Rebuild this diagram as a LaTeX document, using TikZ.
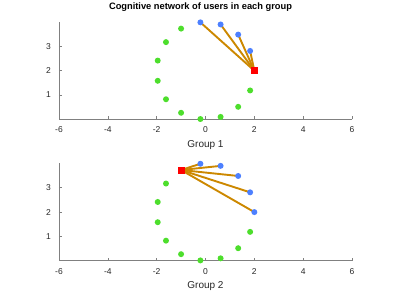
\documentclass[tikz,border=0pt]{standalone}
\usepackage{fontspec}
\setmainfont{Liberation Sans}
\begin{document}
\begin{tikzpicture}[x=1pt,y=1pt,
  axisline/.style={draw=axgray,line width=0.6pt},
  ticklab/.style={font=\fontsize{8.5}{9}\selectfont,text=txtgray,inner sep=0pt},
  greendot/.style={circle,fill=dotgreen,inner sep=0pt,minimum size=6pt},
  bluedot/.style={circle,fill=dotblue,inner sep=0pt,minimum size=6pt},
  redsq/.style={rectangle,fill=red,inner sep=0pt,minimum size=7pt},
  link/.style={draw=linkor,line width=1.9pt}]
\definecolor{axgray}{RGB}{128,128,128}
\definecolor{txtgray}{RGB}{38,38,38}
\definecolor{dotgreen}{RGB}{77,222,44}
\definecolor{dotblue}{RGB}{77,128,255}
\definecolor{linkor}{RGB}{204,136,0}
\useasboundingbox (0,0) rectangle (399,299);
\node[font=\bfseries\fontsize{9.3}{10}\selectfont,text=black] (title) at (200.5,291.7) {Cognitive network of users in each group};
% ---------- Group 1 ----------
\begin{scope}[shift={(205.5,179.7)},x=24.42pt,y=24.3pt]
  \draw[axisline] (-6,4) -- (-6,0) -- (6,0);
  \foreach \t in {-6,-4,-2,0,2,4,6} {
    \draw[axisline] (\t,0) -- ++(0,3pt);
    \node[ticklab,anchor=north] (xa\t) at ([yshift=-7.5pt]\t,0) {\t};
  }
  \foreach \t in {1,2,3} {
    \draw[axisline] (-6,\t) -- ++(3pt,0);
    \node[ticklab,anchor=east] (ya\t) at ([xshift=-8pt]-6,\t) {\t};
  }
  \node[font=\fontsize{10}{11}\selectfont,text=txtgray] (ga) at (0,-1.05) {Group 1};
  \foreach \i in {0,...,14} {
    \coordinate (ca\i) at ({2*cos(24*\i)},{2+2*sin(24*\i)});
  }
  \foreach \j in {1,2,3,4} { \draw[link] (ca0) -- (ca\j); }
  \foreach \i in {5,...,14} { \node[greendot] (a\i) at (ca\i) {}; }
  \foreach \i in {1,2,3,4} { \node[bluedot] (a\i) at (ca\i) {}; }
  \node[redsq] (a0) at (ca0) {};
\end{scope}
% ---------- Group 2 ----------
\begin{scope}[shift={(205.5,38.3)},x=24.42pt,y=24.3pt]
  \draw[axisline] (-6,4) -- (-6,0) -- (6,0);
  \foreach \t in {-6,-4,-2,0,2,4,6} {
    \draw[axisline] (\t,0) -- ++(0,3pt);
    \node[ticklab,anchor=north] (xb\t) at ([yshift=-7.5pt]\t,0) {\t};
  }
  \foreach \t in {1,2,3} {
    \draw[axisline] (-6,\t) -- ++(3pt,0);
    \node[ticklab,anchor=east] (yb\t) at ([xshift=-8pt]-6,\t) {\t};
  }
  \node[font=\fontsize{10}{11}\selectfont,text=txtgray] (gb) at (0,-1.05) {Group 2};
  \foreach \i in {0,...,14} {
    \coordinate (cb\i) at ({2*cos(24*\i)},{2+2*sin(24*\i)});
  }
  \foreach \j in {0,1,2,3,4} { \draw[link] (cb5) -- (cb\j); }
  \foreach \i in {6,...,14} { \node[greendot] (b\i) at (cb\i) {}; }
  \foreach \i in {0,1,2,3,4} { \node[bluedot] (b\i) at (cb\i) {}; }
  \node[redsq] (b5) at (cb5) {};
\end{scope}
\end{tikzpicture}
\end{document}
